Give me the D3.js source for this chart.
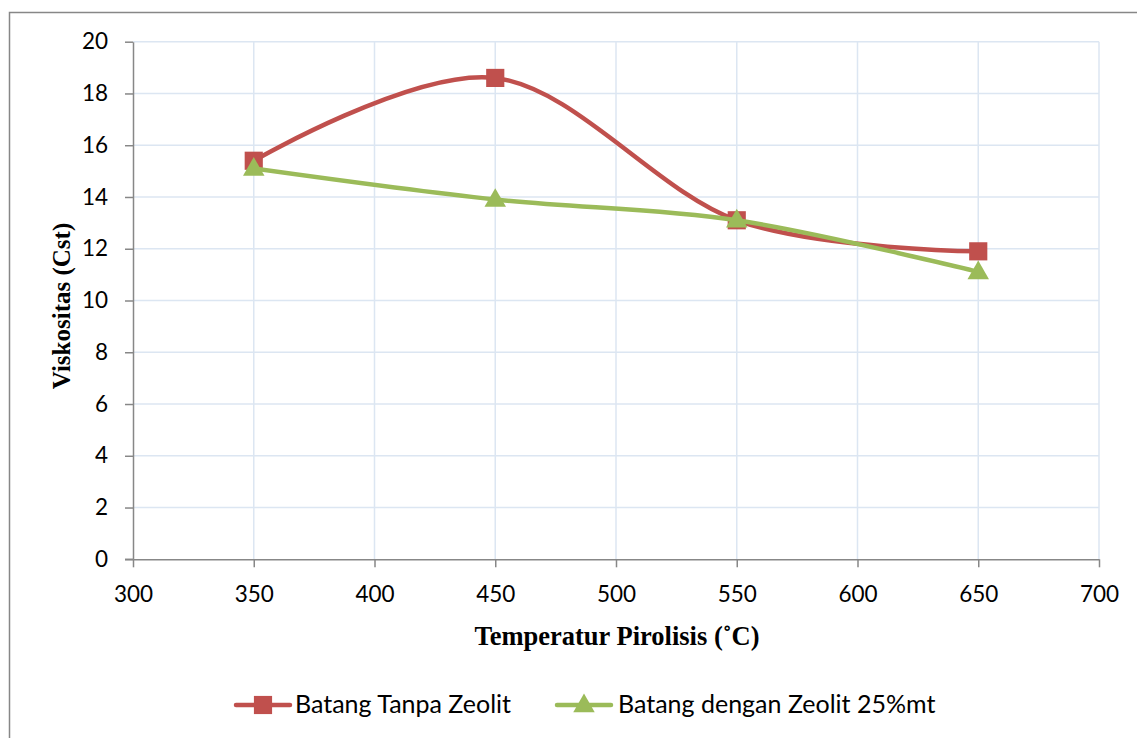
<!DOCTYPE html>
<html>
<head>
<meta charset="utf-8">
<script src="https://cdn.jsdelivr.net/npm/d3@7"></script>
<style>
  body { margin: 0; background: #fff; }
  svg { display: block; }
</style>
</head>
<body>
<div id="chart"></div>
<script>
// Viskositas vs temperatur pirolisis
const temps = [350, 450, 550, 650];
const tanpaZeolit = [15.4, 18.6, 13.1, 11.9];
const denganZeolit = [15.1, 13.9, 13.1, 11.1];
const seriesNames = ['Batang Tanpa Zeolit', 'Batang dengan Zeolit 25%mt'];
const xTicks = [300, 350, 400, 450, 500, 550, 600, 650, 700];
const yTicks = [0, 2, 4, 6, 8, 10, 12, 14, 16, 18, 20];

(function () {
    const width = 1137;
    const height = 738;
    const plot = { left: 133, right: 1099, top: 41.7, bottom: 559.3 };
    const tickFont = 'Lato, "Open Sans", sans-serif';
    const titleFont = '"Liberation Serif", "Times New Roman", serif';

    const svg = d3.select('#chart')
        .append('svg')
        .attr('width', width)
        .attr('height', height);

    // outer chart border (only top and left visible)
    svg.append('path')
        .attr('d', `M9.5,${height} V12.5 H${width}`)
        .attr('fill', 'none')
        .attr('stroke', '#878787')
        .attr('stroke-width', 1.5);

    const x = d3.scaleLinear().domain([300, 700]).range([plot.left, plot.right]);
    const y = d3.scaleLinear().domain([0, 20]).range([plot.bottom, plot.top]);

    // gridlines
    const grid = svg.append('g');
    grid.selectAll('.hg')
        .data(yTicks.filter(d => d > 0))
        .enter().append('line')
        .attr('x1', plot.left).attr('x2', plot.right)
        .attr('y1', d => y(d)).attr('y2', d => y(d))
        .attr('stroke', '#dce6f2').attr('stroke-width', 1.5);
    grid.selectAll('.vg')
        .data(xTicks.filter(d => d > 300))
        .enter().append('line')
        .attr('x1', d => x(d)).attr('x2', d => x(d))
        .attr('y1', plot.top).attr('y2', plot.bottom)
        .attr('stroke', '#dce6f2').attr('stroke-width', 1.5);

    // axes
    const xAxis = svg.append('g')
        .attr('transform', `translate(0,${plot.bottom})`)
        .call(d3.axisBottom(x).tickValues(xTicks).tickSize(8).tickPadding(19).tickSizeOuter(0));
    const yAxis = svg.append('g')
        .attr('transform', `translate(${plot.left},0)`)
        .call(d3.axisLeft(y).tickValues(yTicks).tickSize(8).tickPadding(17).tickSizeOuter(0));

    [xAxis, yAxis].forEach(ax => {
        ax.select('.domain').attr('stroke', '#878787').attr('stroke-width', 1.5);
        ax.selectAll('.tick line').attr('stroke', '#878787').attr('stroke-width', 1.5);
        ax.selectAll('.tick text')
            .attr('fill', '#000')
            .style('font-family', tickFont)
            .style('font-size', '22.5px');
    });
    // extend x-axis line to the left under the y ticks
    xAxis.append('line')
        .attr('x1', plot.left - 8).attr('x2', plot.left)
        .attr('stroke', '#878787').attr('stroke-width', 1.5);

    // axis titles
    svg.append('text')
        .attr('x', 617).attr('y', 645)
        .attr('text-anchor', 'middle')
        .style('font-family', titleFont)
        .style('font-weight', 'bold')
        .style('font-size', '26.5px')
        .text('Temperatur Pirolisis (˚C)');

    svg.append('text')
        .attr('transform', 'translate(70,306) rotate(-90)')
        .attr('text-anchor', 'middle')
        .style('font-family', titleFont)
        .style('font-weight', 'bold')
        .style('font-size', '25px')
        .text('Viskositas (Cst)');

    const colors = ['#c0504d', '#9bbb59'];
    const allSeries = [tanpaZeolit, denganZeolit];

    const line = d3.line()
        .x(d => x(d[0]))
        .y(d => y(d[1]))
        .curve(d3.curveCardinal.tension(0));

    const square = d3.symbol().type(d3.symbolSquare).size(330);
    const triangle = d3.symbol().type(d3.symbolTriangle).size(200);
    const symbols = [square, triangle];

    allSeries.forEach((vals, i) => {
        const pts = temps.map((t, j) => [t, vals[j]]);
        svg.append('path')
            .datum(pts)
            .attr('d', line)
            .attr('fill', 'none')
            .attr('stroke', colors[i])
            .attr('stroke-width', 4.5)
            .attr('stroke-linecap', 'round');
        svg.selectAll('.m' + i)
            .data(pts)
            .enter().append('path')
            .attr('transform', d => `translate(${x(d[0])},${y(d[1]) + (i === 1 ? 1 : 0)})`)
            .attr('d', symbols[i])
            .attr('fill', colors[i]);
    });

    // legend
    const legendItems = [
        { x: 236, textX: 295 },
        { x: 557, textX: 618 }
    ];
    legendItems.forEach((it, i) => {
        const g = svg.append('g').attr('transform', `translate(0,705)`);
        g.append('line')
            .attr('x1', it.x).attr('x2', it.x + 54)
            .attr('stroke', colors[i]).attr('stroke-width', 4.5)
            .attr('stroke-linecap', 'round');
        g.append('path')
            .attr('transform', `translate(${it.x + 27},${i === 1 ? 1 : 0})`)
            .attr('d', symbols[i])
            .attr('fill', colors[i]);
        g.append('text')
            .attr('x', it.textX).attr('y', 8)
            .style('font-family', tickFont)
            .style('font-size', '25px')
            .text(seriesNames[i]);
    });
})();
</script>
</body>
</html>
